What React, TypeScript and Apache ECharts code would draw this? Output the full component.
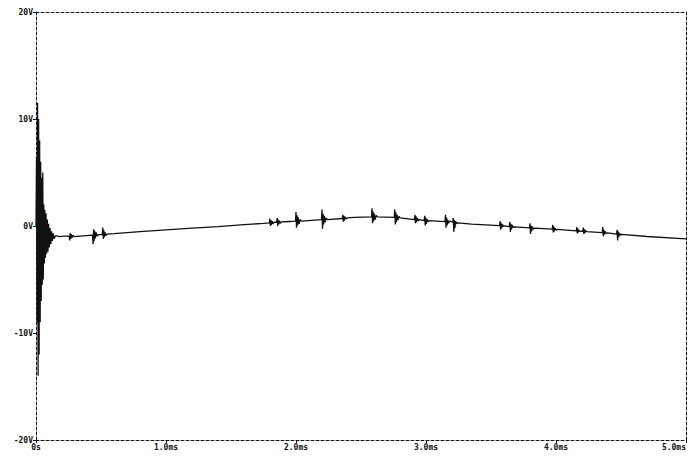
import React, { useEffect, useRef } from "react";
import * as echarts from "echarts";

// [time ms, volts] — switch-on ringing
const ringing: [number, number][] = [
  [0.000, 0], [0.004, 6.5], [0.008, -9], [0.012, 11.5], [0.016, -14],
  [0.020, 10], [0.024, -12], [0.028, 8], [0.032, -9], [0.036, 6],
  [0.040, -7], [0.044, 4.5], [0.048, -5.5], [0.052, 5], [0.056, -5],
  [0.060, 2], [0.064, -3.5], [0.068, 1.5], [0.072, -3], [0.077, 1.2],
  [0.082, -2.6], [0.087, 0.6], [0.092, -2.4], [0.097, 0.2], [0.102, -2.0],
  [0.108, -0.2], [0.114, -1.7], [0.120, -0.5], [0.126, -1.4], [0.132, -0.7],
  [0.140, -1.2], [0.150, -0.9], [0.180, -1.0], [0.220, -0.95],
];

// [time ms, volts] — slow trace with switching bursts
const trace: [number, number][] = [
  [0.255, -0.95], [0.259, -1.35], [0.263, -0.65], [0.267, -1.2], [0.271, -0.75], [0.277, -1.1], [0.283, -0.85], [0.292, -1.0],
  [0.435, -0.85], [0.439, -1.7], [0.443, -0.3], [0.447, -1.4], [0.451, -0.45], [0.457, -1.15], [0.463, -0.6], [0.471, -0.95], [0.480, -0.8],
  [0.510, -0.8], [0.514, -0.15], [0.518, -1.2], [0.522, -0.4], [0.526, -1.05], [0.532, -0.6], [0.538, -0.9], [0.546, -0.75],
  [0.600, -0.72], [0.800, -0.52], [1.000, -0.36], [1.200, -0.2], [1.400, -0.05], [1.600, 0.12], [1.750, 0.25],
  [1.795, 0.3], [1.799, 0.7], [1.803, 0.0], [1.807, 0.55], [1.811, 0.1], [1.817, 0.45], [1.823, 0.2], [1.831, 0.35],
  [1.851, 0.35], [1.855, 0.75], [1.859, 0.0], [1.863, 0.6], [1.867, 0.15], [1.873, 0.5], [1.879, 0.25], [1.888, 0.38],
  [1.950, 0.42],
  [1.996, 0.45], [2.000, 1.3], [2.004, -0.15], [2.008, 1.0], [2.012, 0.05], [2.018, 0.8], [2.024, 0.2], [2.032, 0.6], [2.042, 0.45],
  [2.196, 0.6], [2.200, 1.55], [2.204, -0.25], [2.208, 1.15], [2.212, 0.15], [2.218, 0.95], [2.224, 0.35], [2.232, 0.75], [2.242, 0.6],
  [2.356, 0.7], [2.360, 1.05], [2.364, 0.4], [2.368, 0.95], [2.372, 0.5], [2.378, 0.85], [2.386, 0.65], [2.396, 0.75],
  [2.450, 0.8],
  [2.581, 0.85], [2.585, 1.65], [2.589, 0.25], [2.593, 1.35], [2.597, 0.45], [2.603, 1.15], [2.609, 0.6], [2.617, 1.0], [2.627, 0.85],
  [2.756, 0.8], [2.760, 1.55], [2.764, 0.15], [2.768, 1.25], [2.772, 0.35], [2.778, 1.05], [2.784, 0.55], [2.792, 0.9], [2.802, 0.75],
  [2.911, 0.6], [2.915, 1.05], [2.919, 0.25], [2.923, 0.9], [2.927, 0.35], [2.933, 0.75], [2.941, 0.5], [2.950, 0.6],
  [2.986, 0.5], [2.990, 0.95], [2.994, 0.05], [2.998, 0.8], [3.002, 0.2], [3.008, 0.65], [3.016, 0.4], [3.025, 0.5],
  [3.146, 0.4], [3.150, 1.05], [3.154, -0.15], [3.158, 0.8], [3.162, 0.05], [3.168, 0.6], [3.174, 0.25], [3.182, 0.45],
  [3.206, 0.35], [3.210, 0.75], [3.214, -0.55], [3.218, 0.55], [3.222, -0.2], [3.228, 0.45], [3.236, 0.2], [3.245, 0.3],
  [3.350, 0.17],
  [3.566, 0.03], [3.570, 0.45], [3.574, -0.35], [3.578, 0.3], [3.582, -0.2], [3.588, 0.15], [3.596, -0.05], [3.605, 0.02],
  [3.641, -0.05], [3.645, 0.4], [3.649, -0.55], [3.653, 0.2], [3.657, -0.35], [3.663, 0.1], [3.671, -0.15], [3.680, -0.08],
  [3.796, -0.17], [3.800, 0.25], [3.804, -0.75], [3.808, 0.05], [3.812, -0.5], [3.818, -0.05], [3.826, -0.3], [3.835, -0.2],
  [3.971, -0.3], [3.975, 0.1], [3.979, -0.6], [3.983, -0.05], [3.987, -0.5], [3.993, -0.2], [4.001, -0.38], [4.010, -0.32],
  [4.156, -0.45], [4.160, -0.1], [4.164, -0.7], [4.168, -0.25], [4.172, -0.6], [4.178, -0.38], [4.186, -0.5],
  [4.206, -0.5], [4.210, -0.15], [4.214, -0.75], [4.218, -0.3], [4.222, -0.65], [4.228, -0.42], [4.236, -0.53],
  [4.356, -0.62], [4.360, -0.1], [4.364, -0.95], [4.368, -0.35], [4.372, -0.8], [4.378, -0.5], [4.386, -0.7], [4.395, -0.64],
  [4.466, -0.75], [4.470, -0.35], [4.474, -1.35], [4.478, -0.5], [4.482, -1.05], [4.488, -0.65], [4.496, -0.85], [4.505, -0.78],
  [4.700, -0.98], [5.000, -1.2],
];

const xTickValues: number[] = [0, 1, 2, 3, 4, 5];
const xTickLabels: string[] = ["0s", "1.0ms", "2.0ms", "3.0ms", "4.0ms", "5.0ms"];
const yTickValues: number[] = [-20, -10, 0, 10, 20];
const yTickLabels: string[] = ["-20V", "-10V", "0V", "10V", "20V"];

const INK = "#111";
const dash = [3, 2];
const labelFont = {
  color: INK,
  fontFamily: "DejaVu Sans Mono",
  fontWeight: "bold" as const,
  fontSize: 8,
};

export default function App() {
  const ref = useRef<HTMLDivElement>(null);
  useEffect(() => {
    if (!ref.current) return;
    const chart = echarts.init(ref.current, undefined, { renderer: "svg" });
    const xFmt = (v: number) => {
      const i = xTickValues.indexOf(Math.round(v * 1000) / 1000);
      return i >= 0 ? xTickLabels[i] : "";
    };
    const yFmt = (v: number) => {
      const i = yTickValues.indexOf(v);
      return i >= 0 ? yTickLabels[i] : "";
    };
    const data = [...ringing, ...trace];
    const frameAxis = {
      axisLine: { show: true, onZero: false, lineStyle: { color: INK, type: dash, width: 1 } },
      splitLine: { show: false },
    };
    chart.setOption({
      animation: false,
      backgroundColor: "#fff",
      grid: { left: 28, right: 5, top: 4, bottom: 12, containLabel: false },
      xAxis: [
        {
          type: "value", min: 0, max: 5, interval: 1, position: "bottom", ...frameAxis,
          axisTick: { show: true, inside: false, length: 3, lineStyle: { color: INK } },
          axisLabel: { ...labelFont, formatter: xFmt, margin: 3, alignMaxLabel: "right" },
        },
        {
          type: "value", min: 0, max: 5, interval: 1, position: "top", ...frameAxis,
          axisTick: { show: false }, axisLabel: { show: false },
        },
      ],
      yAxis: [
        {
          type: "value", min: -20, max: 20, interval: 10, position: "left", ...frameAxis,
          axisTick: { show: true, inside: false, length: 3, lineStyle: { color: INK } },
          axisLabel: { ...labelFont, formatter: yFmt, margin: 3 },
        },
        {
          type: "value", min: -20, max: 20, interval: 10, position: "right", ...frameAxis,
          axisTick: { show: false }, axisLabel: { show: false },
        },
      ],
      series: [
        {
          type: "line",
          xAxisIndex: 0,
          yAxisIndex: 0,
          data,
          showSymbol: false,
          symbol: "none",
          lineStyle: { color: INK, width: 1.3 },
        },
      ],
    });
    return () => chart.dispose();
  }, []);
  return <div ref={ref} style={{ width: 683, height: 444 }} />;
}
